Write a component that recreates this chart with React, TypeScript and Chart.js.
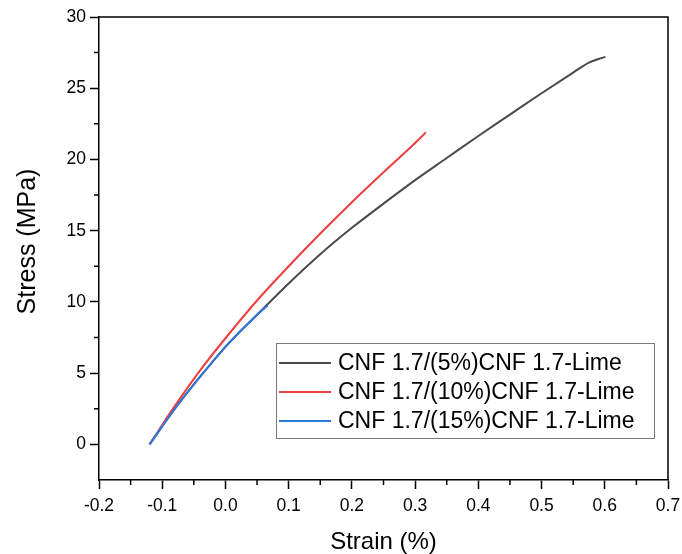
import React, { useEffect, useRef } from "react";
import { Chart, registerables } from "chart.js";

Chart.register(...registerables);

const seriesLabels = [
  "CNF 1.7/(5%)CNF 1.7-Lime",
  "CNF 1.7/(10%)CNF 1.7-Lime",
  "CNF 1.7/(15%)CNF 1.7-Lime",
];
const seriesColors = ["#4a4a4a", "#ef3e3e", "#2d78de"];

const strain5 = [-0.12, -0.08, -0.04, 0.0, 0.05, 0.1, 0.15, 0.2, 0.25, 0.3, 0.35, 0.4, 0.45, 0.5, 0.55, 0.575, 0.59, 0.601];
const stress5 = [0, 2.5, 4.75, 6.85, 9.1, 11.3, 13.35, 15.2, 16.9, 18.55, 20.1, 21.65, 23.15, 24.65, 26.1, 26.8, 27.05, 27.2];

const strain10 = [-0.12, -0.08, -0.04, 0.0, 0.05, 0.1, 0.15, 0.2, 0.25, 0.3, 0.317];
const stress10 = [0, 2.7, 5.2, 7.45, 10.1, 12.5, 14.8, 17.0, 19.1, 21.15, 21.9];

const strain15 = [-0.12, -0.08, -0.04, 0.0, 0.05, 0.067];
const stress15 = [0, 2.5, 4.75, 6.85, 9.1, 9.75];

const xTicks = [-0.2, -0.1, 0.0, 0.1, 0.2, 0.3, 0.4, 0.5, 0.6, 0.7];
const xMinor = [-0.15, -0.05, 0.05, 0.15, 0.25, 0.35, 0.45, 0.55, 0.65];
const yTicks = [0, 5, 10, 15, 20, 25, 30];
const yMinor = [2.5, 7.5, 12.5, 17.5, 22.5, 27.5];

const xTitle = "Strain (%)";
const yTitle = "Stress (MPa)";

const FONT = "'Liberation Sans', Arial, Helvetica, sans-serif";

const toPoints = (xs: number[], ys: number[]) => xs.map((x, i) => ({ x, y: ys[i] }));

const decorPlugin = {
  id: "decor",
  afterDraw(chart: any) {
    const { ctx, chartArea: a, scales } = chart;
    ctx.save();
    ctx.strokeStyle = "#000";
    ctx.lineWidth = 1.5;
    ctx.beginPath();
    ctx.moveTo(a.left, a.top);
    ctx.lineTo(a.right, a.top);
    ctx.lineTo(a.right, a.bottom);
    ctx.stroke();

    ctx.beginPath();
    xMinor.forEach((v) => {
      const x = scales.x.getPixelForValue(v);
      ctx.moveTo(x, a.bottom);
      ctx.lineTo(x, a.bottom + 5);
    });
    yMinor.forEach((v) => {
      const y = scales.y.getPixelForValue(v);
      ctx.moveTo(a.left, y);
      ctx.lineTo(a.left - 5, y);
    });
    ctx.stroke();

    // y-axis title
    ctx.save();
    ctx.translate(28, (a.top + a.bottom) / 2 - 7);
    ctx.rotate(-Math.PI / 2);
    ctx.font = `25px ${FONT}`;
    ctx.fillStyle = "#000";
    ctx.textAlign = "center";
    ctx.textBaseline = "middle";
    ctx.fillText(yTitle, 0, 0);
    ctx.restore();

    // legend box inside plot
    const boxRight = a.right - 14;
    const boxBottom = a.bottom - 42;
    const boxW = 378;
    const boxH = 95;
    const bx = boxRight - boxW;
    const by = boxBottom - boxH;
    ctx.fillStyle = "#fff";
    ctx.fillRect(bx, by, boxW, boxH);
    ctx.strokeStyle = "#7a7a7a";
    ctx.lineWidth = 1;
    ctx.strokeRect(bx + 0.5, by + 0.5, boxW, boxH);
    ctx.font = `23px ${FONT}`;
    ctx.textBaseline = "middle";
    ctx.textAlign = "left";
    chart.data.datasets.forEach((ds: any, i: number) => {
      const y = by + 20 + i * 29;
      ctx.strokeStyle = ds.borderColor;
      ctx.lineWidth = 2;
      ctx.beginPath();
      ctx.moveTo(bx + 3, y);
      ctx.lineTo(bx + 55, y);
      ctx.stroke();
      ctx.fillStyle = "#000";
      ctx.fillText(ds.label, bx + 62, y + 1);
    });
    ctx.restore();
  },
};

export default function App() {
  const ref = useRef<HTMLCanvasElement | null>(null);

  useEffect(() => {
    if (!ref.current) return;
    const mk = (i: number, xs: number[], ys: number[], order: number) => ({
      label: seriesLabels[i],
      data: toPoints(xs, ys),
      borderColor: seriesColors[i],
      backgroundColor: seriesColors[i],
      borderWidth: 2,
      pointRadius: 0,
      cubicInterpolationMode: "monotone" as const,
      fill: false,
      order,
    });
    const chart = new Chart(ref.current, {
      type: "line",
      data: {
        datasets: [
          mk(0, strain5, stress5, 2),
          mk(1, strain10, stress10, 1),
          mk(2, strain15, stress15, 0),
        ],
      },
      options: {
        animation: false,
        responsive: false,
        layout: { padding: { left: 0, top: 17, right: 14, bottom: 0 } },
        plugins: { legend: { display: false }, tooltip: { enabled: false } },
        scales: {
          x: {
            type: "linear",
            min: -0.2,
            max: 0.7,
            afterBuildTicks: (s: any) => {
              s.ticks = xTicks.map((v) => ({ value: v }));
            },
            afterFit: (s: any) => {
              s.height = 74;
              s.paddingLeft = 0;
              s.paddingRight = 0;
            },
            ticks: {
              color: "#000",
              font: { family: FONT, size: 17.5 },
              padding: 7,
              maxRotation: 0,
              autoSkip: false,
              callback: (v: any) => (Math.abs(Number(v)) < 1e-9 ? "0.0" : Number(v).toFixed(1)),
            },
            grid: {
              drawOnChartArea: false,
              tickLength: 9,
              tickColor: "#000",
              tickWidth: 1.5,
            },
            border: { color: "#000", width: 1.5 },
            title: {
              display: true,
              text: xTitle,
              color: "#000",
              font: { family: FONT, size: 24, lineHeight: 1 },
              padding: { top: 0, bottom: 0 },
            },
          },
          y: {
            type: "linear",
            min: -2.5,
            max: 30,
            afterBuildTicks: (s: any) => {
              s.ticks = yTicks.map((v) => ({ value: v }));
            },
            afterFit: (s: any) => {
              s.width = 99;
              s.paddingTop = 0;
              s.paddingBottom = 0;
            },
            ticks: {
              color: "#000",
              font: { family: FONT, size: 17.5 },
              padding: 4,
              autoSkip: false,
              callback: (v: any) => String(v),
            },
            grid: {
              drawOnChartArea: false,
              tickLength: 9,
              tickColor: "#000",
              tickWidth: 1.5,
            },
            border: { color: "#000", width: 1.5 },
            title: { display: false },
          },
        },
      },
      plugins: [decorPlugin],
    });
    return () => chart.destroy();
  }, []);

  return (
    <div style={{ position: "absolute", left: 0, top: 0, width: 682, height: 554, background: "#fff" }}>
      <canvas ref={ref} width={682} height={554} style={{ display: "block" }} />
    </div>
  );
}
